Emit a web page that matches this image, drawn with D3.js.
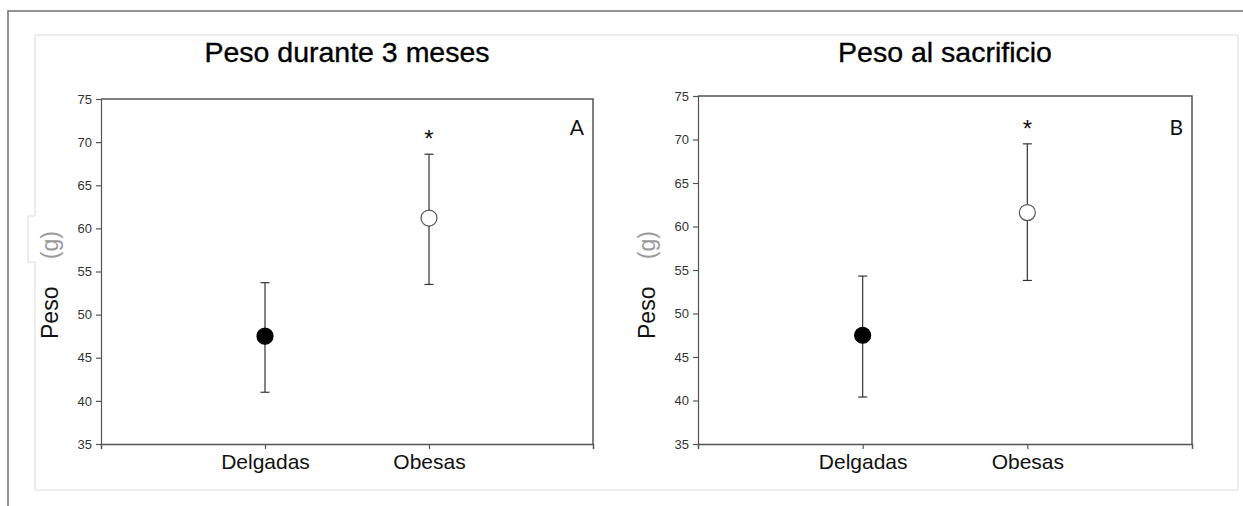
<!DOCTYPE html>
<html>
<head>
<meta charset="utf-8">
<script src="https://cdn.jsdelivr.net/npm/d3@7"></script>
<style>
  body { margin: 0; background: #fff; }
  svg { display: block; font-family: "Liberation Sans", Arial, sans-serif; }
</style>
</head>
<body>
<svg></svg>
<script>
// Chart data
const categories = ["Delgadas", "Obesas"];
const panelTitles = ["Peso durante 3 meses", "Peso al sacrificio"];
const panelLetters = ["A", "B"];
const yTicks = [35, 40, 45, 50, 55, 60, 65, 70, 75];

// Panel A: weight over 3 months
const meanA = [47.5, 61.2];
const lowA = [41.0, 53.5];
const highA = [53.7, 68.6];

// Panel B: weight at sacrifice
const meanB = [47.5, 61.6];
const lowB = [40.4, 53.8];
const highB = [54.3, 69.5];

const significant = [false, true];

const svgWidth = 1243;
const svgHeight = 506;

const svg = d3.select("svg")
    .attr("width", svgWidth)
    .attr("height", svgHeight);

// Outer dark frame (top and left only)
svg.append("path")
    .attr("d", "M8,506 V11 H1243")
    .attr("fill", "none")
    .attr("stroke", "#6e6e6e")
    .attr("stroke-width", 1.5);

// Light inner box, with the small notch on the left edge
svg.append("path")
    .attr("d", "M35,35 H1238 V490 H35 V262 H28 V216 H35 Z")
    .attr("fill", "#fff")
    .attr("stroke", "#dadada")
    .attr("stroke-width", 1);

const panels = [
    { left: 101, right: 593, top: 99, bottom: 444, mean: meanA, low: lowA, high: highA },
    { left: 698, right: 1192, top: 96, bottom: 444, mean: meanB, low: lowB, high: highB }
];

panels.forEach((p, i) => {
    const g = svg.append("g");

    const x = d3.scalePoint()
        .domain(categories)
        .range([p.left, p.right])
        .padding(1);

    const y = d3.scaleLinear()
        .domain([35, 75])
        .range([p.bottom, p.top]);

    const rows = categories.map((c, j) => ({
        cat: c, mean: p.mean[j], low: p.low[j], high: p.high[j], sig: significant[j], idx: j
    }));

    // Title
    g.append("text")
        .attr("x", (p.left + p.right) / 2)
        .attr("y", 62)
        .attr("text-anchor", "middle")
        .style("font-size", "28.5px")
        .style("fill", "#000")
        .style("stroke", "#000")
        .style("stroke-width", 0.35)
        .text(panelTitles[i]);

    // Frame top and right
    g.append("path")
        .attr("d", `M${p.left},${p.top} H${p.right} V${p.bottom}`)
        .attr("fill", "none")
        .attr("stroke", "#555")
        .attr("stroke-width", 1.5);

    // Y axis
    const yAxis = g.append("g")
        .attr("transform", `translate(${p.left},0)`)
        .call(d3.axisLeft(y).tickValues(yTicks).tickSize(5).tickPadding(4));
    yAxis.selectAll("path, line").attr("stroke", "#555").attr("stroke-width", 1.2);
    yAxis.selectAll("text")
        .style("font-size", "13px")
        .style("fill", "#333")
        .attr("font-family", "Liberation Sans, Arial, sans-serif");

    // X axis (outer ticks at both ends)
    const xAxis = g.append("g")
        .attr("transform", `translate(0,${p.bottom})`)
        .call(d3.axisBottom(x).tickSizeInner(5).tickSizeOuter(5).tickPadding(5));
    xAxis.selectAll("path").attr("stroke", "#555").attr("stroke-width", 1.5);
    xAxis.selectAll("line").attr("stroke", "#555").attr("stroke-width", 1.2);
    xAxis.selectAll("text")
        .style("font-size", "21px")
        .style("fill", "#111")
        .attr("font-family", "Liberation Sans, Arial, sans-serif");

    // Y axis label: "Peso" in black, "(g)" in grey, with a wide gap
    const labelX = p.left - 43;
    g.append("text")
        .attr("transform", `translate(${labelX},339) rotate(-90)`)
        .attr("text-anchor", "start")
        .style("font-size", "23px")
        .style("fill", "#111")
        .text("Peso");
    g.append("text")
        .attr("transform", `translate(${labelX},231) rotate(-90)`)
        .attr("text-anchor", "end")
        .style("font-size", "23px")
        .style("fill", "#9a9a9a")
        .text("(g)");

    // Error bars
    g.selectAll(".err")
        .data(rows)
        .enter()
        .append("line")
        .attr("class", "err")
        .attr("x1", d => x(d.cat))
        .attr("x2", d => x(d.cat))
        .attr("y1", d => y(d.low))
        .attr("y2", d => y(d.high))
        .attr("stroke", "#333")
        .attr("stroke-width", 1.2);

    g.selectAll(".capHi")
        .data(rows)
        .enter()
        .append("line")
        .attr("x1", d => x(d.cat) - 4.5)
        .attr("x2", d => x(d.cat) + 4.5)
        .attr("y1", d => y(d.high))
        .attr("y2", d => y(d.high))
        .attr("stroke", "#333")
        .attr("stroke-width", 1.2);

    g.selectAll(".capLo")
        .data(rows)
        .enter()
        .append("line")
        .attr("x1", d => x(d.cat) - 4.5)
        .attr("x2", d => x(d.cat) + 4.5)
        .attr("y1", d => y(d.low))
        .attr("y2", d => y(d.low))
        .attr("stroke", "#333")
        .attr("stroke-width", 1.2);

    // Mean markers: filled for Delgadas, open for Obesas
    g.selectAll(".dot")
        .data(rows)
        .enter()
        .append("circle")
        .attr("cx", d => x(d.cat))
        .attr("cy", d => y(d.mean))
        .attr("r", 8)
        .attr("fill", d => d.idx === 0 ? "#000" : "#fff")
        .attr("stroke", d => d.idx === 0 ? "#000" : "#555")
        .attr("stroke-width", 1.2);

    // Significance asterisk above the error bar
    g.selectAll(".sig")
        .data(rows.filter(d => d.sig))
        .enter()
        .append("text")
        .attr("x", d => x(d.cat))
        .attr("y", d => y(d.high) - 7)
        .attr("text-anchor", "middle")
        .style("font-size", "24px")
        .style("fill", "#111")
        .text("*");

    // Panel letter
    g.append("text")
        .attr("x", p.right - 9)
        .attr("y", 135)
        .attr("text-anchor", "end")
        .style("font-family", "Lato, 'Open Sans', sans-serif")
        .style("font-size", "21px")
        .style("fill", "#111")
        .text(panelLetters[i]);
});
</script>
</body>
</html>
